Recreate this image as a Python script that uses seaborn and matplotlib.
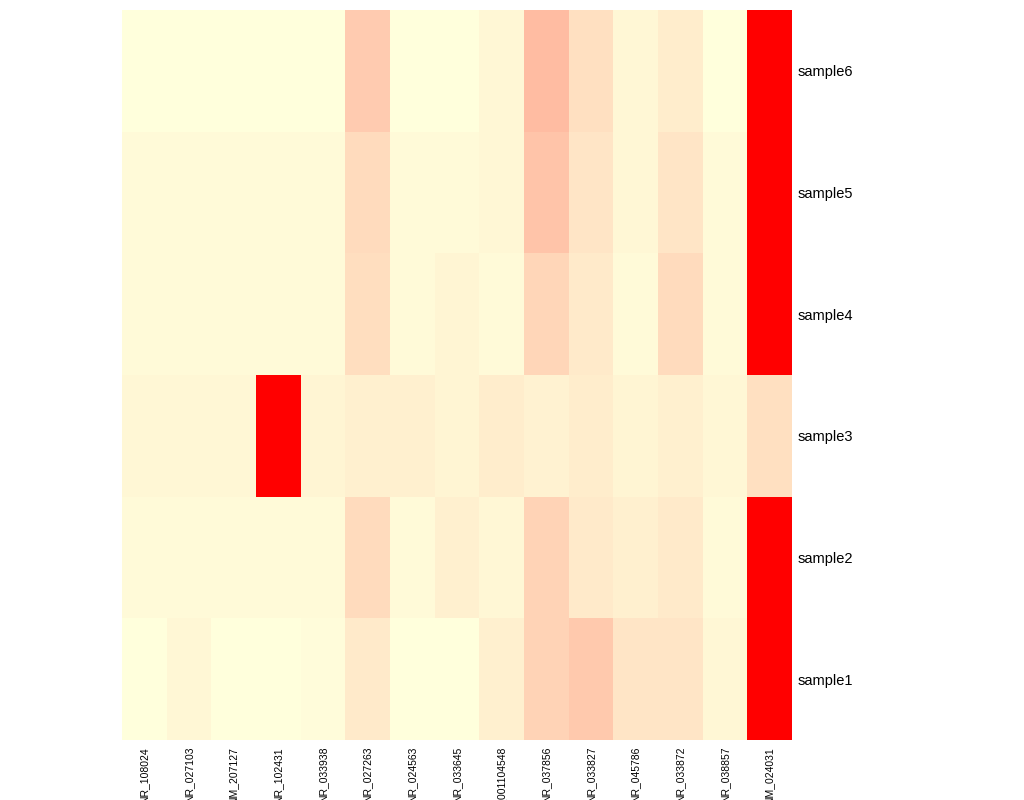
import numpy as np
import pandas as pd
import matplotlib
matplotlib.use("Agg")
import matplotlib.pyplot as plt
import seaborn as sns
from matplotlib.colors import LinearSegmentedColormap

genes = ["NR_108024", "NR_027103", "NM_207127", "NR_102431", "NR_033938",
         "NR_027263", "NR_024563", "NR_033645", "NM_001104548", "NR_037856",
         "NR_033827", "NR_045786", "NR_033872", "NR_038857", "NM_024031"]

samples = ["sample6", "sample5", "sample4", "sample3", "sample2", "sample1"]

# values (0 = light yellow, 1 = red)
sample6 = [0.00, 0.00, 0.00, 0.00, 0.00, 0.20, 0.00, 0.00, 0.03, 0.26, 0.12, 0.035, 0.075, 0.00, 1.00]
sample5 = [0.02, 0.02, 0.02, 0.02, 0.02, 0.14, 0.02, 0.02, 0.035, 0.23, 0.10, 0.03, 0.10, 0.02, 1.00]
sample4 = [0.02, 0.02, 0.02, 0.02, 0.02, 0.13, 0.02, 0.04, 0.025, 0.16, 0.08, 0.02, 0.14, 0.02, 1.00]
sample3 = [0.035, 0.035, 0.035, 1.00, 0.04, 0.06, 0.06, 0.045, 0.07, 0.055, 0.07, 0.04, 0.06, 0.035, 0.12]
sample2 = [0.02, 0.02, 0.02, 0.02, 0.02, 0.145, 0.02, 0.065, 0.035, 0.17, 0.085, 0.065, 0.08, 0.02, 1.00]
sample1 = [0.00, 0.03, 0.00, 0.00, 0.015, 0.08, 0.00, 0.00, 0.065, 0.17, 0.21, 0.10, 0.105, 0.03, 1.00]

df = pd.DataFrame([sample6, sample5, sample4, sample3, sample2, sample1],
                  index=samples, columns=genes)

cmap = LinearSegmentedColormap.from_list("ly_red", ["#FFFFDC", "#FF0000"], N=100)

sns.set_theme(style="white")
plt.rcParams["font.family"] = ["Liberation Sans", "DejaVu Sans"]

fig = plt.figure(figsize=(10.24, 8), dpi=100)
ax = fig.add_axes([122 / 1024, 1 - 740 / 800, 670 / 1024, 730 / 800])

sns.heatmap(df, ax=ax, cmap=cmap, vmin=0, vmax=1, cbar=False,
            linewidths=0, xticklabels=True, yticklabels=True)

ax.yaxis.tick_right()
ax.set_yticklabels(samples, rotation=0, fontsize=10.5, color="black")
# column labels run past the bottom edge, as in the original
ax.set_xticklabels(genes, rotation=90, fontsize=7.5, color="black", va="top")
ax.tick_params(axis="both", length=0)
ax.tick_params(axis="y", pad=4)
ax.tick_params(axis="x", pad=5)
ax.set_xlabel("")
ax.set_ylabel("")
for s in ax.spines.values():
    s.set_visible(False)

fig.savefig("out.png", dpi=100)
